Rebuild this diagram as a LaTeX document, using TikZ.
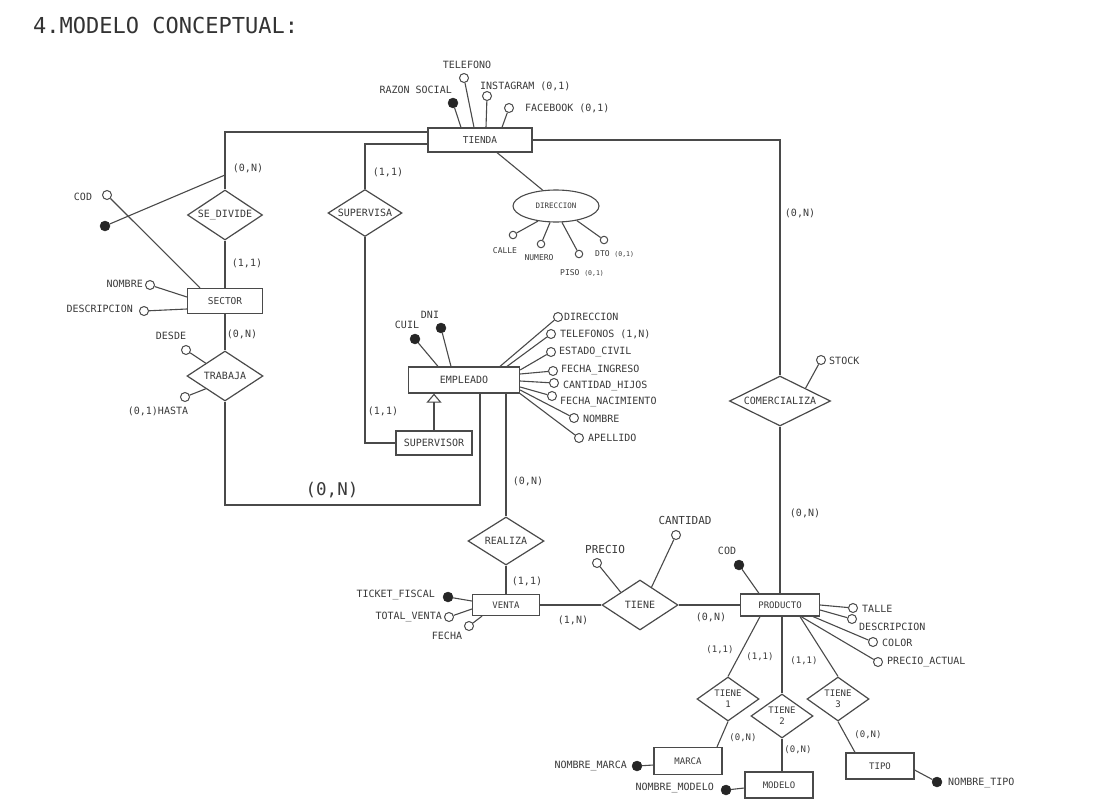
\documentclass[tikz,border=0pt]{standalone}
\usepackage{fontspec}
\setmonofont{DejaVu Sans Mono}
\usetikzlibrary{shapes.geometric,arrows.meta,calc}
\definecolor{ink}{HTML}{3A3A3A}
\definecolor{lncol}{HTML}{4A4A4A}
\newcommand{\myfont}[1]{\ttfamily\fontsize{#1}{#1}\selectfont}
\tikzset{
  conn/.style={draw=lncol, line width=1.1pt},
  ent/.style={draw=lncol, line width=1.2pt, rectangle, inner sep=0pt, font=\myfont{9.5}, text=ink, fill=white},
  rel/.style={diamond, draw=lncol, line width=1.2pt, inner sep=0pt, fill=white},
  reltxt/.style={font=\myfont{10}, text=ink, inner sep=0pt},
  ao/.style={circle, draw=lncol, line width=1pt, fill=white, minimum size=9pt, inner sep=0pt},
  aos/.style={circle, draw=lncol, line width=1pt, fill=white, minimum size=7.5pt, inner sep=0pt},
  af/.style={circle, draw=black!85, fill=black!85, minimum size=10pt, inner sep=0pt},
  lbl/.style={font=\myfont{10}, text=ink, inner sep=0pt},
  slbl/.style={font=\myfont{8}, text=ink, inner sep=0pt},
  card/.style={font=\myfont{10}, text=ink, inner sep=0pt},
}
\begin{document}
\begin{tikzpicture}[x=1pt,y=-1pt]
\fill[white] (0,0) rectangle (1102,808);
\useasboundingbox (0,0) rectangle (1102,808);

\node[anchor=west, font=\myfont{22}, text=black!80, inner sep=0pt] (title) at (33,25) {4.MODELO CONCEPTUAL:};

% ---------- entities ----------
\node[ent, minimum width=104pt, minimum height=24pt] (tienda) at (480,140) {TIENDA};
\node[ent, minimum width=75pt, minimum height=25pt] (sector) at (225,301) {SECTOR};
\node[ent, minimum width=111pt, minimum height=26pt, font=\myfont{10}] (empleado) at (464,380) {EMPLEADO\hspace{26pt}};
\node[ent, minimum width=76pt, minimum height=24pt, font=\myfont{10}] (supervisor) at (434,443) {SUPERVISOR};
\node[ent, minimum width=67pt, minimum height=21pt, font=\myfont{9}] (venta) at (506,605) {VENTA};
\node[ent, minimum width=79pt, minimum height=22pt, font=\myfont{9}] (producto) at (780,605) {PRODUCTO};
\node[ent, minimum width=68pt, minimum height=27pt, font=\myfont{9}] (marca) at (688,761) {MARCA};
\node[ent, minimum width=68pt, minimum height=26pt, font=\myfont{9}] (modelo) at (779,785) {MODELO};
\node[ent, minimum width=68pt, minimum height=26pt, font=\myfont{9}] (tipo) at (880,766) {TIPO};

% ---------- relationships ----------
\node[rel, minimum width=75pt, minimum height=50pt, label={[reltxt]center:SE\_DIVIDE}] (sedivide) at (225,215) {};
\node[rel, minimum width=74pt, minimum height=47pt, label={[reltxt]center:SUPERVISA}] (supervisa) at (365,213) {};
\node[rel, minimum width=76pt, minimum height=50pt, label={[reltxt]center:TRABAJA}] (trabaja) at (225,376) {};
\node[rel, minimum width=76pt, minimum height=48pt, label={[reltxt]center:REALIZA}] (realiza) at (506,541) {};
\node[rel, minimum width=76pt, minimum height=50pt, label={[reltxt]center:TIENE}] (tiene) at (640,605) {};
\node[rel, minimum width=101pt, minimum height=50pt, label={[reltxt]center:COMERCIALIZA}] (comercializa) at (780,401) {};
\node[rel, minimum width=62pt, minimum height=44pt, label={[reltxt, font=\myfont{9}, align=center]center:TIENE\\[2pt]1}] (tiene1) at (728,699) {};
\node[rel, minimum width=62pt, minimum height=44pt, label={[reltxt, font=\myfont{9}, align=center]center:TIENE\\[2pt]2}] (tiene2) at (782,716) {};
\node[rel, minimum width=62pt, minimum height=44pt, label={[reltxt, font=\myfont{9}, align=center]center:TIENE\\[2pt]3}] (tiene3) at (838,699) {};

% ---------- DIRECCION (composite) ----------
\node[ellipse, draw=lncol, line width=1.1pt, minimum width=86pt, minimum height=32pt, inner sep=0pt, font=\myfont{7.5}, text=ink] (dir) at (556,206) {DIRECCION};

% ---------- connectors between entities/relationships ----------
\coordinate (sdj) at (225,175);
\draw[conn] ([yshift=8pt]tienda.west) -| (sedivide.north);
\draw[conn] (sedivide.south) -- (sector.north);
\draw[conn] ([yshift=-4pt]tienda.west) -| (supervisa.north);
\draw[conn] (supervisa.south) |- (supervisor.west);
\draw[conn] (tienda.east) -| (comercializa.north);
\draw[conn] (comercializa.south) -- (producto.north);
\draw[conn] ([xshift=17pt]tienda.south) -- (dir.130);
\draw[conn] (sector.south) -- (trabaja.north);
\coordinate (loop) at (480,505);
\draw[conn] (trabaja.south) |- (loop) -- (loop |- empleado.south);
\draw[conn, -{Triangle[open, length=9pt, width=15pt]}] (supervisor.north) -- (supervisor.north |- empleado.south);
\draw[conn] ([xshift=42pt]empleado.south) -- (realiza.north);
\draw[conn] (realiza.south) -- (venta.north);
\draw[conn] (venta.east) -- (tiene.west);
\draw[conn] (tiene.east) -- (producto.west);
\draw[conn] ([xshift=-20pt]producto.south) -- (tiene1.north);
\draw[conn] ([xshift=2pt]producto.south) -- (tiene2.north);
\draw[conn] ([xshift=20pt]producto.south) -- (tiene3.north);
\draw[conn] (tiene1.south) -- ([xshift=29pt]marca.north);
\draw[conn] (tiene2.south) -- (tiene2.south |- modelo.north);
\draw[conn] (tiene3.south) -- ([xshift=-25pt]tipo.north);

% ---------- cardinalities ----------
\node[card] (c1) at (248,168) {(0,N)};
\node[card] (c2) at (247,263) {(1,1)};
\node[card] (c3) at (242,334) {(0,N)};
\node[card] (c4) at (388,172) {(1,1)};
\node[card] (c5) at (383,411) {(1,1)};
\node[card, font=\myfont{17.5}] (c6) at (332,490) {(0,N)};
\node[card] (c7) at (528,481) {(0,N)};
\node[card] (c8) at (527,581) {(1,1)};
\node[card] (c9) at (573,620) {(1,N)};
\node[card] (c10) at (711,617) {(0,N)};
\node[card] (c11) at (800,213) {(0,N)};
\node[card] (c12) at (805,513) {(0,N)};
\node[card, font=\myfont{9}] (c13) at (720,650) {(1,1)};
\node[card, font=\myfont{9}] (c14) at (760,657) {(1,1)};
\node[card, font=\myfont{9}] (c15) at (804,661) {(1,1)};
\node[card, font=\myfont{9}] (c16) at (743,738) {(0,N)};
\node[card, font=\myfont{9}] (c17) at (798,750) {(0,N)};
\node[card, font=\myfont{9}] (c18) at (868,735) {(0,N)};

% ---------- TIENDA attributes ----------
\node[af] (razon) at (453,103) {};
\node[lbl, anchor=east] (razonl) at (452,90) {RAZON SOCIAL};
\draw[conn] (razon) -- ([xshift=-19pt]tienda.north);
\node[ao] (tel) at (464,78) {};
\node[lbl] (tell) at (467,65) {TELEFONO};
\draw[conn] (tel) -- ([xshift=-6pt]tienda.north);
\node[ao] (insta) at (487,96) {};
\node[lbl, anchor=west] (instal) at (480,86) {INSTAGRAM (0,1)};
\draw[conn] (insta) -- ([xshift=6pt]tienda.north);
\node[ao] (face) at (509,108) {};
\node[lbl, anchor=west] (facel) at (525,108) {FACEBOOK (0,1)};
\draw[conn] (face) -- ([xshift=22pt]tienda.north);

% ---------- DIRECCION sub-attributes ----------
\node[aos] (calle) at (513,235) {};
\node[slbl] (callel) at (505,251) {CALLE};
\draw[conn] (dir.220) -- (calle);
\node[aos] (numero) at (541,244) {};
\node[slbl] (numerol) at (539,258) {NUMERO};
\draw[conn] (dir.250) -- (numero);
\node[aos] (piso) at (579,254) {};
\node[slbl, anchor=west] (pisol) at (560,273) {PISO {\myfont{6.5}(0,1)}};
\draw[conn] (dir.290) -- (piso);
\node[aos] (dto) at (604,240) {};
\node[slbl, anchor=west] (dtol) at (595,254) {DTO {\myfont{6.5}(0,1)}};
\draw[conn] (dir.325) -- (dto);

% ---------- SECTOR attributes ----------
\node[ao] (scod) at (107,195) {};
\node[lbl] (scodl) at (83,197) {COD};
\draw[conn] (scod) -- ([xshift=-25pt]sector.north);
\node[af] (codf) at (105,226) {};
\draw[conn] (codf) -- (sdj);
\node[ao] (snom) at (150,285) {};
\node[lbl, anchor=east] (snoml) at (143,284) {NOMBRE};
\draw[conn] (snom) -- ([yshift=4pt]sector.west);
\node[ao] (sdesc) at (144,311) {};
\node[lbl, anchor=east] (sdescl) at (133,309) {DESCRIPCION};
\draw[conn] (sdesc) -- ([yshift=-8pt]sector.west);

% ---------- TRABAJA attributes ----------
\node[ao] (desde) at (186,350) {};
\node[lbl] (desdel) at (171,336) {DESDE};
\draw[conn] (desde) -- (trabaja.north west);
\node[ao] (hasta) at (185,397) {};
\node[lbl] (hastal) at (158,411) {(0,1)HASTA};
\draw[conn] (hasta) -- (trabaja.south west);

% ---------- EMPLEADO attributes ----------
\node[af] (cuil) at (415,339) {};
\node[lbl] (cuill) at (407,325) {CUIL};
\draw[conn] (cuil) -- ([xshift=-26pt]empleado.north);
\node[af] (dni) at (441,328) {};
\node[lbl] (dnil) at (430,315) {DNI};
\draw[conn] (dni) -- ([xshift=-13pt]empleado.north);
\node[ao] (edir) at (558,317) {};
\node[lbl, anchor=west] (edirl) at (564,317) {DIRECCION};
\draw[conn] (edir) -- ([xshift=36pt]empleado.north);
\node[ao] (etel) at (551,334) {};
\node[lbl, anchor=west] (etell) at (560,334) {TELEFONOS (1,N)};
\draw[conn] (etel) -- ([xshift=43pt]empleado.north);
\node[ao] (eest) at (551,352) {};
\node[lbl, anchor=west] (eestl) at (559,352) {ESTADO\_CIVIL};
\draw[conn] (eest) -- ([yshift=10pt]empleado.east);
\node[ao] (efi) at (553,371) {};
\node[lbl, anchor=west] (efil) at (561,370) {FECHA\_INGRESO};
\draw[conn] (efi) -- ([yshift=6pt]empleado.east);
\node[ao] (ecant) at (554,383) {};
\node[lbl, anchor=west] (ecantl) at (563,386) {CANTIDAD\_HIJOS};
\draw[conn] (ecant) -- ([yshift=-1pt]empleado.east);
\node[ao] (efn) at (552,396) {};
\node[lbl, anchor=west] (efnl) at (560,402) {FECHA\_NACIMIENTO};
\draw[conn] (efn) -- ([yshift=-7pt]empleado.east);
\node[ao] (enom) at (574,418) {};
\node[lbl, anchor=west] (enoml) at (583,419) {NOMBRE};
\draw[conn] (enom) -- ([yshift=-10pt]empleado.east);
\node[ao] (eape) at (579,438) {};
\node[lbl, anchor=west] (eapel) at (588,438) {APELLIDO};
\draw[conn] (eape) -- (empleado.south east);

% ---------- VENTA attributes ----------
\node[af] (ticket) at (448,597) {};
\node[lbl, anchor=east] (ticketl) at (435,595) {TICKET\_FISCAL};
\draw[conn] (ticket) -- ([yshift=4pt]venta.west);
\node[ao] (total) at (449,617) {};
\node[lbl, anchor=east] (totall) at (442,617) {TOTAL\_VENTA};
\draw[conn] (total) -- ([yshift=-4pt]venta.west);
\node[ao] (fecha) at (469,626) {};
\node[lbl] (fechal) at (447,636) {FECHA};
\draw[conn] (fecha) -- ([xshift=-24pt]venta.south);

% ---------- TIENE attributes ----------
\node[ao] (precio) at (597,563) {};
\node[lbl, font=\myfont{11}] (preciol) at (605,549) {PRECIO};
\draw[conn] (precio) -- (tiene.north west);
\node[ao] (cant) at (676,535) {};
\node[lbl, font=\myfont{11}] (cantl) at (685,520) {CANTIDAD};
\draw[conn] (cant) -- ($(tiene.north)!0.3!(tiene.east)$);

% ---------- COMERCIALIZA attribute ----------
\node[ao] (stock) at (821,360) {};
\node[lbl, anchor=west] (stockl) at (829,361) {STOCK};
\draw[conn] (stock) -- (comercializa.north east);

% ---------- PRODUCTO attributes ----------
\node[af] (pcod) at (739,565) {};
\node[lbl] (pcodl) at (727,551) {COD};
\draw[conn] (pcod) -- ([xshift=-21pt]producto.north);
\node[ao] (talle) at (853,608) {};
\node[lbl, anchor=west] (tallel) at (862,609) {TALLE};
\draw[conn] (talle) -- (producto.east);
\node[ao] (pdesc) at (852,619) {};
\node[lbl, anchor=west] (pdescl) at (859,627) {DESCRIPCION};
\draw[conn] (pdesc) -- ([yshift=-5pt]producto.east);
\node[ao] (color) at (873,642) {};
\node[lbl, anchor=west] (colorl) at (882,643) {COLOR};
\draw[conn] (color) -- ([xshift=-7pt]producto.south east);
\node[ao] (pact) at (878,662) {};
\node[lbl, anchor=west] (pactl) at (887,662) {PRECIO\_ACTUAL};
\draw[conn] (pact) -- ([xshift=-19pt]producto.south east);

% ---------- MARCA / MODELO / TIPO attributes ----------
\node[af] (nmarca) at (637,766) {};
\node[lbl, anchor=east] (nmarcal) at (627,766) {NOMBRE\_MARCA};
\draw[conn] (nmarca) -- ([yshift=-4pt]marca.west);
\node[af] (nmodelo) at (726,790) {};
\node[lbl, anchor=east] (nmodelol) at (714,788) {NOMBRE\_MODELO};
\draw[conn] (nmodelo) -- ([yshift=-3pt]modelo.west);
\node[af] (ntipo) at (937,782) {};
\node[lbl, anchor=west] (ntipol) at (948,783) {NOMBRE\_TIPO};
\draw[conn] (ntipo) -- ([yshift=-4pt]tipo.east);
\end{tikzpicture}
\end{document}
